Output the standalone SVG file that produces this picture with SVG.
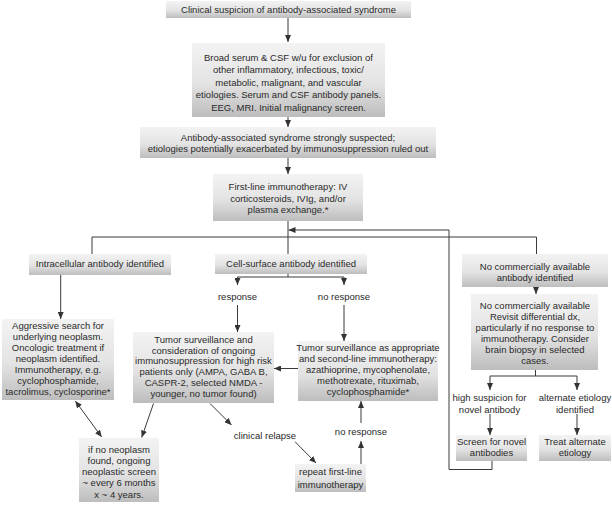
<svg xmlns="http://www.w3.org/2000/svg" width="612" height="505" viewBox="0 0 612 505">
<defs>
<linearGradient id="g" x1="0" y1="0" x2="0" y2="1">
<stop offset="0" stop-color="#f3f3f3"/>
<stop offset="0.55" stop-color="#e3e3e3"/>
<stop offset="1" stop-color="#bdbdbd"/>
</linearGradient>
<marker id="a" markerWidth="7" markerHeight="6" refX="7" refY="3" orient="auto" markerUnits="userSpaceOnUse">
<path d="M0,0 L7,3 L0,6 z" fill="#333"/>
</marker>
<marker id="as" markerWidth="7" markerHeight="6" refX="0" refY="3" orient="auto" markerUnits="userSpaceOnUse">
<path d="M7,0 L0,3 L7,6 z" fill="#333"/>
</marker>
</defs>
<style>
.b{fill:url(#g);stroke:none}
text{font-family:"Liberation Sans",Arial,sans-serif;font-size:9.5px;fill:#2a2a2a;text-anchor:middle}
.c line,.c polyline{stroke:#3a3a3a;stroke-width:1;fill:none}
.m{marker-end:url(#a)}
</style>
<rect width="612" height="505" fill="#fff"/>
<g class="c" id="connectors">
<line class="m" x1="288" y1="18" x2="288" y2="42"/>
<line class="m" x1="288" y1="117" x2="288" y2="127"/>
<line class="m" x1="288" y1="158" x2="288" y2="174"/>
<line x1="288" y1="221" x2="288" y2="254"/>
<polyline points="92,254 92,237 536.5,237 536.5,254"/>
<polyline class="m" points="492,461 492,469.5 449,469.5 449,230 288.5,230"/>
<line class="m" x1="60.7" y1="275" x2="60.7" y2="319"/>
<line x1="288" y1="274" x2="288" y2="277"/>
<polyline points="237.5,277 344,277"/>
<line class="m" x1="237.5" y1="277" x2="237.5" y2="285"/>
<line class="m" x1="344" y1="277" x2="344" y2="285"/>
<line class="m" x1="237.5" y1="305" x2="237.5" y2="332"/>
<line class="m" x1="344" y1="305" x2="344" y2="341"/>
<line class="m" x1="298" y1="368.5" x2="274" y2="368.5"/>
<line class="m" x1="536" y1="287" x2="536" y2="294"/>
<line x1="535.5" y1="370" x2="535.5" y2="376"/>
<polyline points="490,376 577,376"/>
<line class="m" x1="490" y1="376" x2="490" y2="390"/>
<line class="m" x1="577" y1="376" x2="577" y2="390"/>
<line class="m" x1="490" y1="414" x2="490" y2="435"/>
<line class="m" x1="577" y1="414" x2="577" y2="435"/>
<line class="m" x1="75.3" y1="401" x2="101.7" y2="437" marker-start="url(#as)"/>
<line class="m" x1="153.5" y1="403.5" x2="141.7" y2="437.5"/>
<line class="m" x1="210" y1="403.5" x2="231.5" y2="425"/>
<line class="m" x1="295" y1="441.7" x2="316" y2="463"/>
<line class="m" x1="361" y1="464" x2="361" y2="441"/>
<line class="m" x1="361" y1="423" x2="361" y2="401"/>
</g>
<g id="n1"><rect class="b" x="166" y="1" width="245" height="17"/><text x="288.5" y="13">Clinical suspicion of antibody-associated syndrome</text></g>
<g id="n2"><rect class="b" x="192" y="43" width="193" height="74"/>
<text x="288.5" y="60.5">Broad serum &amp; CSF w/u for exclusion of</text>
<text x="288.5" y="73">other inflammatory, infectious, toxic/</text>
<text x="288.5" y="85.5">metabolic, malignant, and vascular</text>
<text x="288.5" y="98">etiologies. Serum and CSF antibody panels.</text>
<text x="288.5" y="110.5">EEG, MRI. Initial malignancy screen.</text></g>
<g id="n3"><rect class="b" x="140" y="127" width="296" height="31"/>
<text x="288" y="140.5">Antibody-associated syndrome strongly suspected;</text>
<text x="288" y="152">etiologies potentially exacerbated by immunosuppression ruled out</text></g>
<g id="n4"><rect class="b" x="213" y="174" width="150" height="47"/>
<text x="288" y="189.5">First-line immunotherapy: IV</text>
<text x="288" y="201.5">corticosteroids, IVIg, and/or</text>
<text x="288" y="213">plasma exchange.*</text></g>
<g id="n5"><rect class="b" x="29" y="254" width="142" height="21"/><text x="100" y="266.5">Intracellular antibody identified</text></g>
<g id="n6"><rect class="b" x="215" y="254" width="152" height="20"/><text x="291" y="266.5">Cell-surface antibody identified</text></g>
<g id="n7"><rect class="b" x="462" y="254" width="146" height="33"/>
<text x="535" y="269.5">No commercially available</text>
<text x="535" y="280.5">antibody identified</text></g>
<g id="n8"><rect class="b" x="2" y="319" width="112" height="81"/>
<text x="58" y="329.3">Aggressive search for</text>
<text x="58" y="340.3">underlying neoplasm.</text>
<text x="58" y="351.3">Oncologic treatment if</text>
<text x="58" y="362.3">neoplasm identified.</text>
<text x="58" y="373.3">Immunotherapy, e.g.</text>
<text x="58" y="384.3">cyclophosphamide,</text>
<text x="58" y="395.3">tacrolimus, cyclosporine*</text></g>
<g id="n9"><rect class="b" x="133" y="332" width="141" height="71"/>
<text x="203.5" y="342.6">Tumor surveillance and</text>
<text x="203.5" y="353.5">consideration of ongoing</text>
<text x="203.5" y="364.4">immunosuppression for high risk</text>
<text x="203.5" y="375.3">patients only (AMPA, GABA B,</text>
<text x="203.5" y="386.2">CASPR-2, selected NMDA -</text>
<text x="203.5" y="397.1">younger, no tumor found)</text></g>
<g id="n10"><rect class="b" x="298" y="341" width="140" height="60"/>
<text x="368" y="351">Tumor surveillance as appropriate</text>
<text x="368" y="362">and second-line immunotherapy:</text>
<text x="368" y="373">azathioprine, mycophenolate,</text>
<text x="368" y="384">methotrexate, rituximab,</text>
<text x="368" y="395">cyclophosphamide*</text></g>
<g id="n11"><rect class="b" x="471" y="294" width="127" height="76"/>
<text x="535" y="308.5">No commercially available</text>
<text x="535" y="319.5">Revisit differential dx,</text>
<text x="535" y="330.5">particularly if no response to</text>
<text x="535" y="341.5">immunotherapy. Consider</text>
<text x="535" y="352.5">brain biopsy in selected</text>
<text x="535" y="363.5">cases.</text></g>
<g id="n12"><rect class="b" x="456" y="435" width="71" height="26"/>
<text x="491.5" y="444.5">Screen for novel</text>
<text x="491.5" y="456">antibodies</text></g>
<g id="n13"><rect class="b" x="539" y="435" width="72" height="26"/>
<text x="575" y="444.5">Treat alternate</text>
<text x="575" y="456">etiology</text></g>
<g id="n14"><rect class="b" x="79" y="438" width="80" height="64"/>
<text x="119" y="452.5">if no neoplasm</text>
<text x="119" y="463.8">found, ongoing</text>
<text x="119" y="475.1">neoplastic screen</text>
<text x="119" y="486.4">~ every 6 months</text>
<text x="119" y="497.7">x ~ 4 years.</text></g>
<g id="n15"><rect class="b" x="295" y="464" width="71" height="28"/>
<text x="330.5" y="475">repeat first-line</text>
<text x="330.5" y="488.3">immunotherapy</text></g>
<g id="labels">
<text x="237.5" y="300">response</text>
<text x="344" y="300">no response</text>
<text x="489.5" y="400.5">high suspicion for</text>
<text x="489.5" y="412.5">novel antibody</text>
<text x="575" y="400.5">alternate etiology</text>
<text x="575" y="412.5">identified</text>
<text x="265" y="439">clinical relapse</text>
<text x="361" y="434.5">no response</text>
</g>
</svg>
